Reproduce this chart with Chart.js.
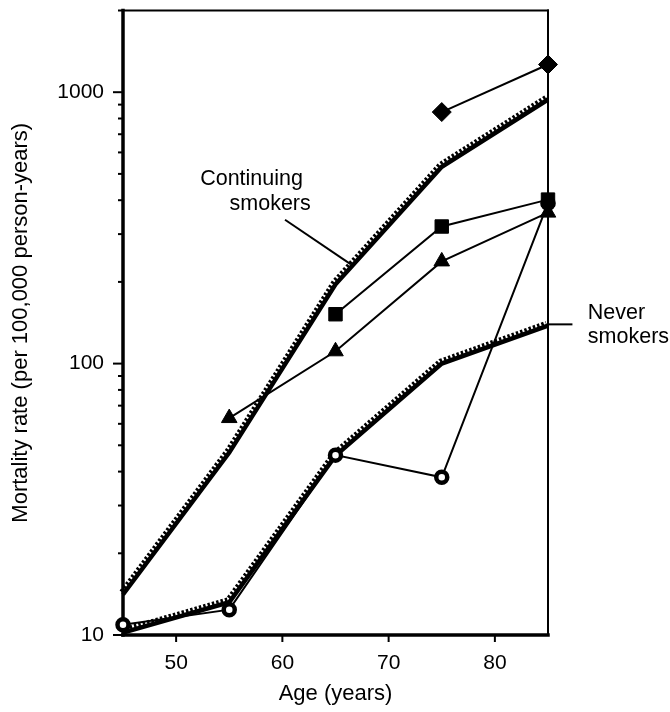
<!DOCTYPE html>
<html>
<head>
<meta charset="utf-8">
<script src="https://cdn.jsdelivr.net/npm/chart.js@4.4.1/dist/chart.umd.min.js"></script>
<style>
  html, body { margin: 0; padding: 0; background: #fff; }
</style>
</head>
<body>
<canvas id="c" width="670" height="712"></canvas>
<script>
// data (rate per 100,000 person-years, log axis)
const ages = [45, 55, 65, 75, 85];
const continuingSmokers = [14.1, 47, 196, 531, 940];
const neverSmokers = [10.2, 13.2, 45.8, 100, 138];
const diamondRates = [null, null, null, 845, 1265];
const squareRates = [null, null, 152, 320, 402];
const triangleRates = [null, 63, 111, 238, 360];
const circleRates = [10.9, 12.4, 46, 38.1, 390];

const xTicks = [50, 60, 70, 80];
const yTicks = [10, 20, 30, 40, 50, 60, 70, 80, 90, 100, 200, 300, 400, 500, 600, 700, 800, 900, 1000, 2000];
const yLabels = [10, 100, 1000];

// annotation labels and leader lines, in data units (age, rate)
const notes = [
  { text: 'Continuing', x: 57.1, y: 456, align: 'center' },
  { text: 'smokers', x: 58.85, y: 369, align: 'center' },
  { text: 'Never', x: 88.75, y: 146, align: 'left' },
  { text: 'smokers', x: 88.75, y: 119, align: 'left' },
];
const leaders = [
  [[60.25, 339], [66.45, 232]],
  [[85, 139.5], [87.3, 139.5]],
];

const pts = vals => ages.map((a, i) => ({ x: a, y: vals[i] }));
const FONT = '"Liberation Sans", Arial, sans-serif';
Chart.defaults.font.family = FONT;
Chart.defaults.color = '#000';

const thick = (data, order) => ({ data: pts(data), borderColor: '#000', borderWidth: 4.5, pointRadius: 0, order, clip: false });
const hatch = (data, order) => ({ data: pts(data), borderColor: '#000', borderWidth: 3.5, borderDash: [2.5, 2], pointRadius: 0, order, clip: false, shift: [-2, -3] });
const marked = (data, style, radius, order, extra = {}) => ({
  data: pts(data), borderColor: '#000', borderWidth: 2, pointStyle: style, pointRadius: radius,
  pointBackgroundColor: '#000', pointBorderColor: '#000', pointBorderWidth: 1, order, clip: false, ...extra,
});

const hatchShift = {
  id: 'hatchShift',
  beforeDatasetDraw(chart, args) {
    const s = chart.data.datasets[args.index].shift;
    if (s) { chart.ctx.save(); chart.ctx.translate(s[0], s[1]); }
  },
  afterDatasetDraw(chart, args) {
    if (chart.data.datasets[args.index].shift) chart.ctx.restore();
  },
};

const frame = {
  id: 'frame',
  beforeDatasetsDraw(chart) {
    const { ctx, chartArea: a, scales: { x, y } } = chart;
    const line = (x1, y1, x2, y2, w) => {
      ctx.lineWidth = w; ctx.beginPath(); ctx.moveTo(x1, y1); ctx.lineTo(x2, y2); ctx.stroke();
    };
    ctx.save();
    ctx.strokeStyle = '#000';
    ctx.lineCap = 'square';
    line(a.left, a.top, a.right, a.top, 2);
    line(a.right, a.top, a.right, a.bottom, 2);
    line(a.left, a.top, a.left, a.bottom, 3.5);
    line(a.left, a.bottom, a.right, a.bottom, 3.5);
    ctx.lineCap = 'butt';
    yTicks.forEach(v => {
      const py = y.getPixelForValue(v);
      line(a.left - (yLabels.includes(v) ? 10 : 5), py, a.left, py, 2);
    });
    xTicks.forEach(v => {
      const px = x.getPixelForValue(v);
      line(px, a.bottom, px, a.bottom + 7, 2);
    });
    leaders.forEach(([p, q]) => {
      line(x.getPixelForValue(p[0]), y.getPixelForValue(p[1]), x.getPixelForValue(q[0]), y.getPixelForValue(q[1]), 2);
    });
    ctx.fillStyle = '#000';
    ctx.font = '21.5px ' + FONT;
    ctx.textBaseline = 'alphabetic';
    notes.forEach(n => {
      ctx.textAlign = n.align;
      ctx.fillText(n.text, x.getPixelForValue(n.x), y.getPixelForValue(n.y));
    });
    ctx.restore();
  },
};

new Chart(document.getElementById('c'), {
  type: 'line',
  data: {
    datasets: [
      marked(diamondRates, 'rectRot', 9.5, 1),
      marked(squareRates, 'rect', 9.5, 2),
      marked(triangleRates, 'triangle', 9, 3),
      marked(circleRates, 'circle', 5.5, 4, { pointBackgroundColor: '#fff', pointBorderWidth: 4.5 }),
      thick(continuingSmokers, 5),
      hatch(continuingSmokers, 6),
      thick(neverSmokers, 7),
      hatch(neverSmokers, 8),
    ],
  },
  options: {
    responsive: false,
    animation: false,
    spanGaps: false,
    layout: { padding: { left: 0, top: 8, right: 122, bottom: 0 } },
    plugins: { legend: { display: false }, tooltip: { enabled: false } },
    elements: { line: { tension: 0 } },
    scales: {
      x: {
        type: 'linear', min: 45, max: 85,
        afterBuildTicks: s => { s.ticks = xTicks.map(v => ({ value: v })); },
        afterFit: s => { s.height = 77; s.paddingLeft = 0; s.paddingRight = 0; },
        grid: { display: true, drawOnChartArea: false, drawTicks: true, tickLength: 7, color: 'transparent' },
        border: { display: false },
        ticks: { autoSkip: false, maxRotation: 0, padding: 9, font: { size: 21 } },
        title: { display: true, text: 'Age (years)', font: { size: 22 }, padding: { top: 0, bottom: 5 } },
      },
      y: {
        type: 'logarithmic', min: 10, max: 2000,
        afterBuildTicks: s => { s.ticks = yTicks.map(v => ({ value: v })); },
        afterFit: s => { s.width = 123; s.paddingTop = 0; s.paddingBottom = 0; },
        grid: { display: true, drawOnChartArea: false, drawTicks: true, tickLength: 10, color: 'transparent' },
        border: { display: false },
        ticks: {
          autoSkip: false, padding: 9, font: { size: 21 },
          callback: v => (yLabels.includes(v) ? String(v) : ''),
        },
        title: { display: true, text: 'Mortality rate (per 100,000 person-years)', font: { size: 22 }, padding: { top: 8, bottom: 0 } },
      },
    },
  },
  plugins: [hatchShift, frame],
});
</script>
</body>
</html>
